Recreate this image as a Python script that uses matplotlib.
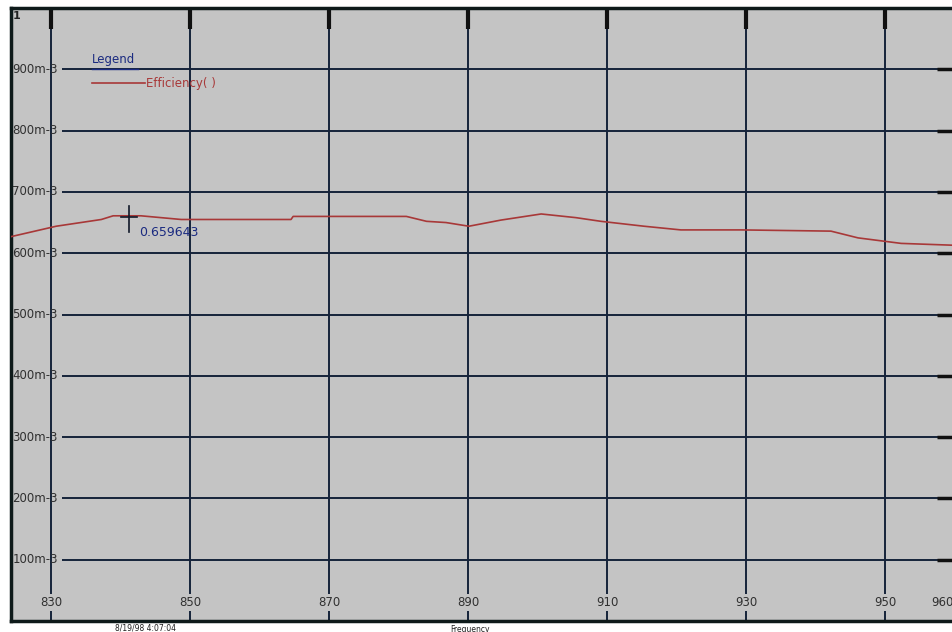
import matplotlib
matplotlib.use("Agg")
import matplotlib.pyplot as plt

# Data
freq = [824.2, 830.7, 837.2, 838.9, 842.9, 848.7, 864.5, 864.8, 881.1, 884.0,
        886.8, 890.1, 894.7, 900.5, 905.5, 909.1, 915.3, 920.6, 929.3, 942.2,
        946.1, 952.3, 959.8]
efficiency = [0.627, 0.644, 0.655, 0.661, 0.661, 0.655, 0.655, 0.660, 0.660, 0.652,
              0.650, 0.644, 0.654, 0.664, 0.658, 0.652, 0.644, 0.638, 0.638, 0.636,
              0.625, 0.616, 0.613]
x_ticks = [830, 850, 870, 890, 910, 930, 950, 960]
x_tick_labels = ["830", "850", "870", "890", "910", "930", "950", "960"]
y_ticks = [0.1, 0.2, 0.3, 0.4, 0.5, 0.6, 0.7, 0.8, 0.9, 1.0]
y_tick_labels = ["100m-3", "200m-3", "300m-3", "400m-3", "500m-3",
                 "600m-3", "700m-3", "800m-3", "900m-3", "1"]
marker_x = 841.2
marker_y = 0.659643
marker_label = "0.659643"
series_name = "Efficiency( )"
legend_title = "Legend"
x_label = "Frequency"
date_text = "8/19/98 4:07:04"

fig = plt.figure(figsize=(9.52, 6.32), dpi=100)
fig.patch.set_facecolor("white")
ax = fig.add_axes([11 / 952, 11 / 632, 945 / 952, 613 / 632])
ax.set_facecolor("#c4c4c4")
ax.set_xlim(824.2, 960.2)
ax.set_ylim(0, 1.0)

grid_color = "#15233a"
for xv in x_ticks[:-1]:
    ax.axvline(xv, color=grid_color, lw=1.4, zorder=1)
for yv in y_ticks[:-1]:
    ax.hlines(yv, 831.6, 960.2, color=grid_color, lw=1.4, zorder=1)

# top tick marks
for xv in x_ticks[:-1]:
    ax.plot([xv, xv], [1.0, 0.965], color="#101010", lw=3, zorder=2, solid_capstyle="butt")
# right tick marks
for yv in y_ticks[:-1]:
    ax.plot([957.5, 960.2], [yv, yv], color="#101010", lw=2.5, zorder=2, solid_capstyle="butt")

ax.plot(freq, efficiency, color="#a83838", lw=1.2, zorder=3)

# cursor marker
ax.plot([marker_x, marker_x], [marker_y - 0.025, marker_y + 0.018], color="#101828", lw=1.2, zorder=4)
ax.plot([marker_x - 1.2, marker_x + 1.2], [marker_y, marker_y], color="#101828", lw=1.2, zorder=4)
ax.text(marker_x + 1.5, marker_y - 0.015, marker_label, color="#1a2a80", fontsize=9,
        va="top", ha="left", zorder=5)

# legend
ax.text(835.8, 0.905, legend_title, color="#1a2a80", fontsize=8.5, va="bottom", ha="left", zorder=5)
ax.plot([835.8, 842.5], [0.9, 0.9], color="#1a2a80", lw=1, zorder=5)
ax.plot([835.8, 843.5], [0.877, 0.877], color="#a83838", lw=1.2, zorder=5)
ax.text(843.6, 0.877, series_name, color="#a83838", fontsize=8.5, va="center", ha="left", zorder=5)

# y tick labels inside
for yv, lab in zip(y_ticks, y_tick_labels):
    if yv >= 1.0:
        ax.text(824.4, 0.995, lab, fontsize=8, color="#202020", va="top", ha="left", zorder=5,
                fontweight="bold")
    else:
        ax.text(824.4, yv, lab, fontsize=8.5, color="#303030", va="center", ha="left", zorder=5)

# x tick labels inside
for xv, lab in zip(x_ticks, x_tick_labels):
    ha = "right" if xv == x_ticks[-1] else "center"
    xpos = 959.9 if xv == x_ticks[-1] else xv
    ax.text(xpos, 0.03, lab, fontsize=8.5, color="#303030", va="center", ha=ha, zorder=5,
            bbox=dict(facecolor="#c4c4c4", edgecolor="none", pad=1.5))

ax.set_xticks([])
ax.set_yticks([])
for side in ["left", "bottom", "top"]:
    ax.spines[side].set_color("#0e1a1a")
    ax.spines[side].set_linewidth(2.5)
ax.spines["right"].set_visible(False)

fig.text(115 / 952, 1 - 628 / 632, date_text, fontsize=5.5, color="#202020", ha="left", va="center")
fig.text(470 / 952, 1 - 629 / 632, x_label, fontsize=5.5, color="#202020", ha="center", va="center")

fig.savefig("out.png", dpi=100)
